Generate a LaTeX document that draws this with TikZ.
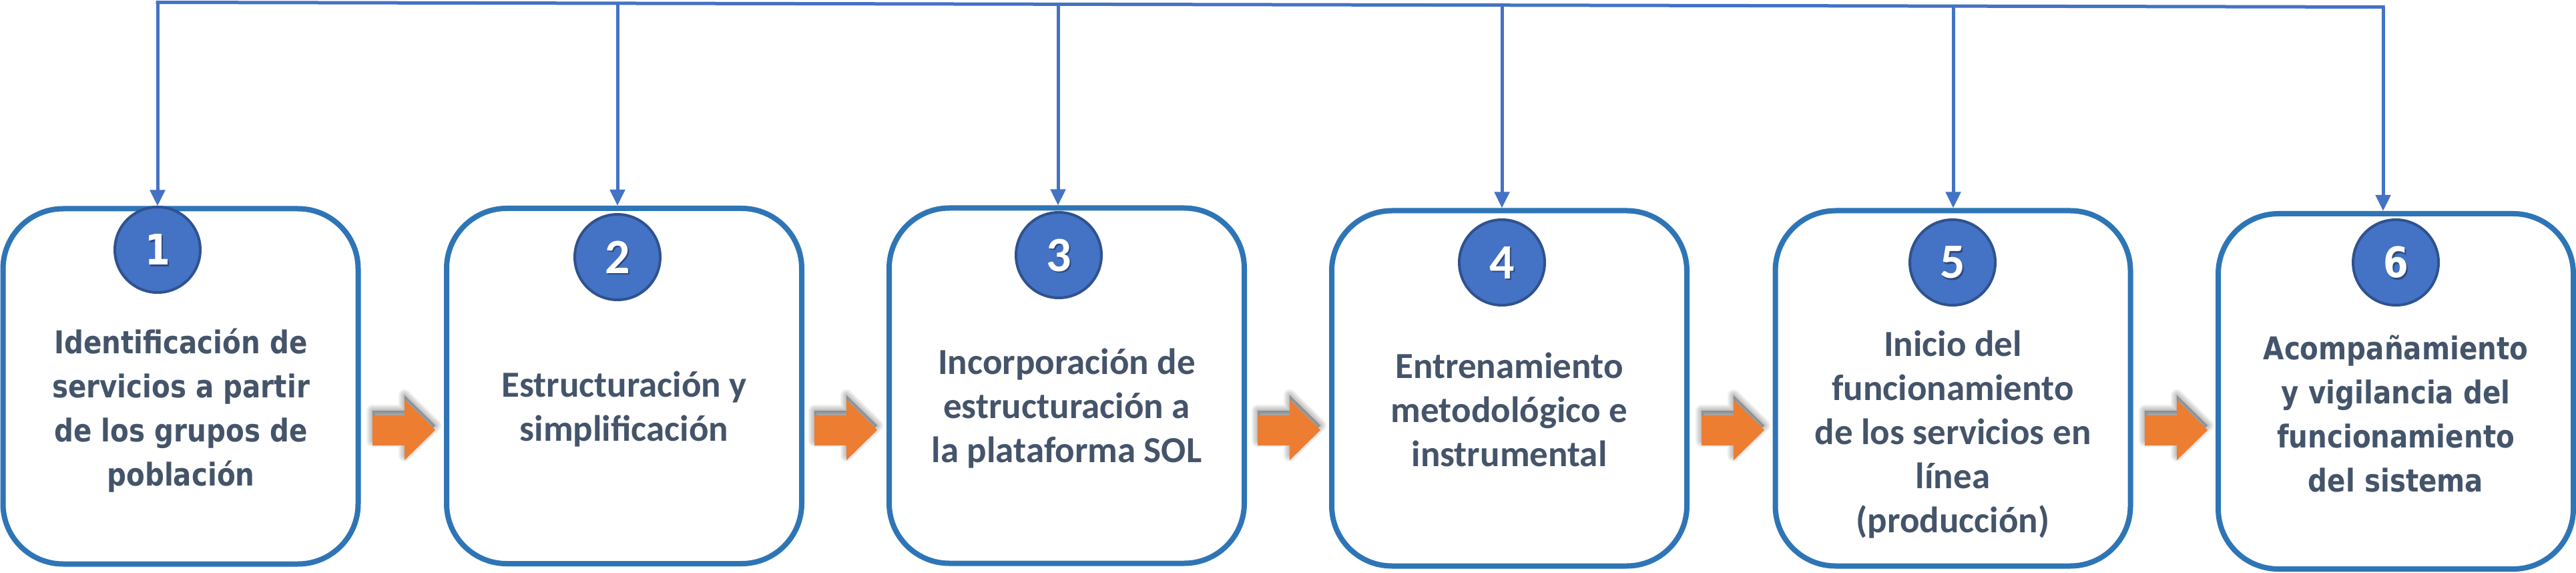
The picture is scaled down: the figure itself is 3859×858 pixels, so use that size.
\documentclass[tikz,border=0pt]{standalone}
\usepackage{fontspec}
\newfontfamily\calib{Carlito}
\newfontfamily\verd[FakeStretch=0.86]{DejaVu Sans}
\usetikzlibrary{arrows.meta}
\definecolor{boxblue}{HTML}{2E75B6}
\definecolor{circblue}{HTML}{4472C4}
\definecolor{circedge}{HTML}{2F528F}
\definecolor{linkblue}{HTML}{4472C4}
\definecolor{arrorange}{HTML}{ED7D31}
\definecolor{txtgray}{HTML}{44546A}
\begin{document}
\begin{tikzpicture}[x=1pt,y=-1pt,
  stepbox/.style={draw=boxblue, line width=8pt, rounded corners=90pt, fill=white,
    minimum width=532pt, minimum height=532pt, inner sep=0pt},
  numcirc/.style={circle, fill=circblue, draw=circedge, line width=4pt,
    minimum size=128pt, inner sep=0pt},
  linkline/.style={draw=linkblue, line width=5pt, line cap=rect},
  link/.style={draw=linkblue, line width=5pt, -{Triangle[width=22pt,length=24pt]}},
  lblc/.style={text=txtgray, align=center, inner sep=0pt, anchor=base,
    font=\calib\bfseries\fontsize{55}{66}\selectfont},
  lblv/.style={text=txtgray, align=center, inner sep=0pt, anchor=base,
    font=\verd\bfseries\fontsize{47}{66}\selectfont},
  digc/.style={text=white, inner sep=0pt, font=\calib\bfseries\fontsize{74}{74}\selectfont},
  digv/.style={text=white, inner sep=0pt, font=\verd\bfseries\fontsize{63}{63}\selectfont},
  digshade/.style={text=black, opacity=0.35, xshift=2.5pt, yshift=-2.5pt},
  blockarrow/.style={fill=arrorange, draw=none},
  arrshade/.style={fill=black, draw=black, opacity=0.06, line join=round}
]
\useasboundingbox (0,0) rectangle (3859,858);

% boxes
\node[stepbox] (b1) at (270.5,578.5) {};
\node[stepbox] (b2) at (935,578) {};
\node[stepbox] (b3) at (1598,577.5) {};
\node[stepbox] (b4) at (2261,581.5) {};
\node[stepbox] (b5) at (2925.5,581.5) {};
\node[stepbox] (b6) at (3589,586) {};

% top connector
\coordinate (t1) at (236,3.5);
\coordinate (t2) at (925,4.95);
\coordinate (t3) at (1585,6.3);
\coordinate (t4) at (2250,7.7);
\coordinate (t5) at (2926,9.15);
\coordinate (t6) at (3570,10.5);
\draw[linkline] (t1) -- (t6);
\foreach \i in {1,...,6}{
  \draw[link] (t\i) -- (t\i |- b\i.north);
}

% circles
\node[numcirc] (c1) at (236,374) {};
\node[numcirc] (c2) at (925,385) {};
\node[numcirc] (c3) at (1586,382) {};
\node[numcirc] (c4) at (2250,393) {};
\node[numcirc] (c5) at (2925,393) {};
\node[numcirc] (c6) at (3589,393) {};

\node[digv,digshade] (d1s) at (c1) {1};
\node[digv] (d1) at (c1) {1};
\node[digc,digshade] (d2s) at (c2) {2};
\node[digc] (d2) at (c2) {2};
\node[digc,digshade] (d3s) at (c3) {3};
\node[digc] (d3) at (c3) {3};
\node[digc,digshade] (d4s) at (c4) {4};
\node[digc] (d4) at (c4) {4};
\node[digc,digshade] (d5s) at (c5) {5};
\node[digc] (d5) at (c5) {5};
\node[digv,digshade] (d6s) at (c6) {6};
\node[digv] (d6) at (c6) {6};

% texts (anchor = baseline of the last line)
\node[lblv] (l1) at (271,727) {Identificación de\\servicios a partir\\de los grupos de\\población};
\node[lblc] (l2) at (935,660) {Estructuración y\\simplificación};
\node[lblc] (l3) at (1598,692) {Incorporación de\\estructuración a\\la plataforma SOL};
\node[lblc] (l4) at (2261,698) {Entrenamiento\\metodológico e\\instrumental};
\node[lblc] (l5) at (2925.5,797) {Inicio del\\funcionamiento\\de los servicios en\\línea\\(producción)};
\node[lblv] (l6) at (3589,736) {Acompañamiento\\y vigilancia del\\funcionamiento\\del sistema};

% orange block arrows between boxes
\foreach \m in {605,1267,1931,2596,3260}{
  \foreach \w in {18,14,10,6,2}{
    \path[arrshade, line width=\w pt] (\m-47,615) -- (\m+1,615) -- (\m+1,592) -- (\m+47,637)
      -- (\m+1,682) -- (\m+1,660) -- (\m-47,660) -- cycle;
  }
  \path[blockarrow] (\m-47,622) -- (\m+1,622) -- (\m+1,599) -- (\m+47,644)
    -- (\m+1,689) -- (\m+1,667) -- (\m-47,667) -- cycle;
}
\end{tikzpicture}
\end{document}
